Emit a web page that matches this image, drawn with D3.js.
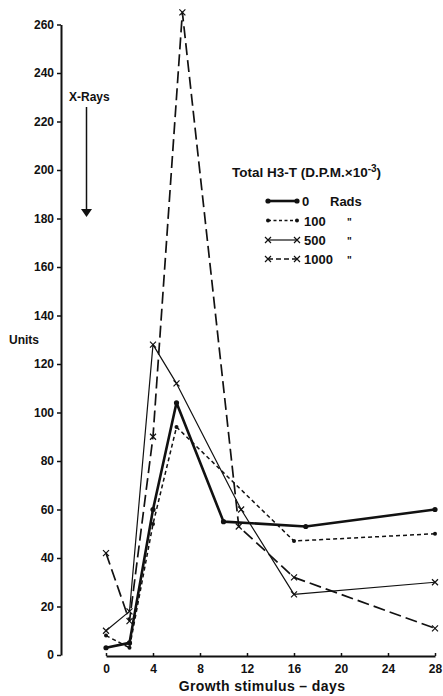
<!DOCTYPE html>
<html>
<head>
<meta charset="utf-8">
<script src="https://cdn.jsdelivr.net/npm/d3@7"></script>
<style>
  html, body { margin: 0; padding: 0; background: #fff; }
  svg { display: block; }
  text { font-family: "Liberation Sans", Arial, sans-serif; font-weight: bold; fill: #111; }
</style>
</head>
<body>
<svg id="chart" width="443" height="696"></svg>
<script>
// ---- data ----
const xTicks = [0, 4, 8, 12, 16, 20, 24, 28];
const yTicks = [0, 20, 40, 60, 80, 100, 120, 140, 160, 180, 200, 220, 240, 260];

const days0 = [0, 2, 4, 6, 10, 17, 28];
const rads0 = [3, 5, 60, 104, 55, 53, 60];

const days100 = [0, 2, 4, 6, 16, 28];
const rads100 = [8, 3, 54, 94, 47, 50];

const days500 = [0, 2, 4, 6, 11.5, 16, 28];
const rads500 = [10, 18, 128, 112, 60, 25, 30];

const days1000 = [0, 2, 4, 6.5, 11.3, 16, 28];
const rads1000 = [42, 14, 90, 265, 53, 32, 11];

const seriesNames = ["0", "100", "500", "1000"];

// ---- drawing ----
const svg = d3.select("#chart");
const x = d3.scaleLinear().domain([0, 28]).range([106, 435]);
const y = d3.scaleLinear().domain([0, 260]).range([655, 24.5]);

// Y axis
const yAxis = svg.append("g").attr("transform", "translate(61,0)")
  .call(d3.axisLeft(y).tickValues(yTicks).tickSize(4).tickSizeOuter(0).tickPadding(3));
yAxis.select(".domain").attr("stroke", "#111").attr("stroke-width", 2);
yAxis.selectAll(".tick line").attr("stroke", "#111").attr("stroke-width", 1.5);
yAxis.selectAll("text").style("font-size", "12px").style("font-family", "Liberation Sans, Arial, sans-serif").style("font-weight", "bold").attr("fill", "#111");

// X axis
const xAxis = svg.append("g").attr("transform", "translate(0,656)")
  .call(d3.axisBottom(x).tickValues(xTicks).tickSize(-3).tickSizeOuter(0).tickPadding(8));
xAxis.select(".domain").attr("stroke", "#111").attr("stroke-width", 2);
xAxis.selectAll(".tick line").attr("stroke", "#111").attr("stroke-width", 1.5);
xAxis.selectAll("text").style("font-size", "12px").style("font-family", "Liberation Sans, Arial, sans-serif").style("font-weight", "bold").attr("fill", "#111");

// Axis titles
svg.append("text").attr("x", 9).attr("y", 344).style("font-size", "12px").text("Units");
svg.append("text").attr("x", 262).attr("y", 691).attr("text-anchor", "middle")
  .style("font-size", "14px").style("letter-spacing", "0.4px").text("Growth  stimulus – days");

// X-Rays annotation
svg.append("text").attr("x", 69).attr("y", 101).style("font-size", "12px").text("X-Rays");
svg.append("line").attr("x1", 86.5).attr("x2", 86.5).attr("y1", 107).attr("y2", 211)
  .attr("stroke", "#111").attr("stroke-width", 1.5);
svg.append("path").attr("d", "M81,209 L92,209 L86.5,217 Z").attr("fill", "#111");

// series styles
const styles = [
  { days: days0, vals: rads0, width: 2.6, dash: null, marker: "dot", r: 2.6 },
  { days: days100, vals: rads100, width: 1.5, dash: "4,3", marker: "dot", r: 2 },
  { days: days500, vals: rads500, width: 1.2, dash: null, marker: "x" },
  { days: days1000, vals: rads1000, width: 1.7, dash: "12,5", marker: "x" }
];

const line = d3.line().x(d => x(d[0])).y(d => y(d[1]));

function drawMarker(g, cx, cy, s) {
  if (s.marker === "dot") {
    g.append("circle").attr("cx", cx).attr("cy", cy).attr("r", s.r).attr("fill", "#111");
  } else {
    const k = 3;
    g.append("path").attr("d", `M${cx - k},${cy - k}L${cx + k},${cy + k}M${cx - k},${cy + k}L${cx + k},${cy - k}`)
      .attr("stroke", "#111").attr("stroke-width", 1.2).attr("fill", "none");
  }
}

styles.forEach(s => {
  const pts = s.days.map((d, i) => [d, s.vals[i]]);
  const g = svg.append("g");
  g.append("path").attr("d", line(pts)).attr("fill", "none").attr("stroke", "#111")
    .attr("stroke-width", s.width).attr("stroke-dasharray", s.dash).attr("stroke-linejoin", "round");
  pts.forEach(p => drawMarker(g, x(p[0]), y(p[1]), s));
});

// legend
const lg = svg.append("g");
const title = lg.append("text").attr("x", 232).attr("y", 177).style("font-size", "13.5px");
title.append("tspan").text("Total H3-T (D.P.M.×10");
title.append("tspan").attr("dy", -5).style("font-size", "10px").text("-3");
title.append("tspan").attr("dy", 5).text(")");

const rowY = [201, 220.5, 240, 259];
styles.forEach((s, i) => {
  const yy = rowY[i];
  lg.append("line").attr("x1", 268).attr("x2", 297).attr("y1", yy).attr("y2", yy)
    .attr("stroke", "#111").attr("stroke-width", s.width).attr("stroke-dasharray", s.dash ? (i === 3 ? "5,3" : "3,2.5") : null);
  drawMarker(lg, 268, yy, s);
  drawMarker(lg, 297, yy, s);
  lg.append("text").attr("x", i === 0 ? 302 : 304).attr("y", yy + 5).style("font-size", "13px").text(seriesNames[i]);
  if (i === 0) {
    lg.append("text").attr("x", 330).attr("y", yy + 5).style("font-size", "13px").text("Rads");
  } else {
    lg.append("text").attr("x", 347).attr("y", yy + 5).style("font-size", "10px").text('"');
  }
});
</script>
</body>
</html>
